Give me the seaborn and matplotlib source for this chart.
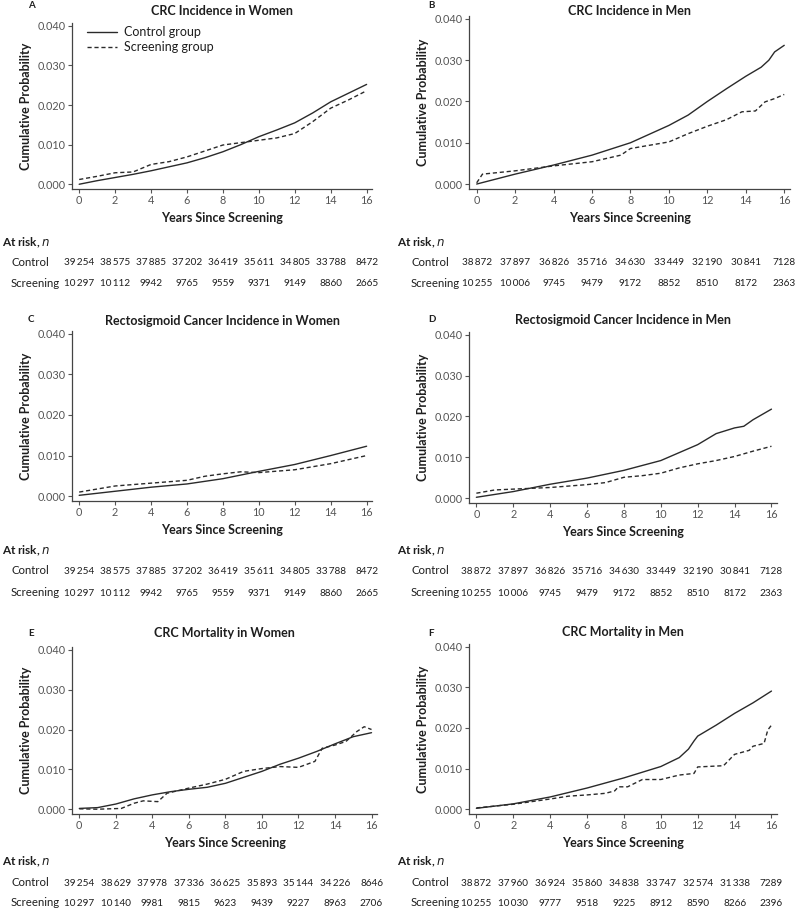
import pandas as pd
import matplotlib.pyplot as plt
import seaborn as sns

# Panel titles and labels
panel_letters = ['A', 'B', 'C', 'D', 'E', 'F']
panel_titles = ['CRC Incidence in Women', 'CRC Incidence in Men',
                'Rectosigmoid Cancer Incidence in Women', 'Rectosigmoid Cancer Incidence in Men',
                'CRC Mortality in Women', 'CRC Mortality in Men']

# Curves (years, cumulative probability)
a_ctrl_x = [0, 1, 2, 3, 4, 5, 6, 7, 8, 9, 10, 11, 12, 13, 14, 15, 16]
a_ctrl_y = [0.0, 0.0009, 0.0017, 0.0025, 0.0034, 0.0044, 0.0054, 0.0067, 0.0082, 0.0100, 0.0120,
            0.0137, 0.0155, 0.0180, 0.0208, 0.0230, 0.0252]
a_scr_x = [0, 1, 2, 3, 4, 5, 6, 7, 8, 9, 10, 11, 12, 13, 14, 15, 16]
a_scr_y = [0.0012, 0.0020, 0.0029, 0.0031, 0.0050, 0.0057, 0.0069, 0.0084, 0.0099, 0.0105, 0.0111,
           0.0117, 0.0128, 0.0158, 0.0192, 0.0213, 0.0236]

b_ctrl_x = [0, 2, 4, 6, 8, 10, 11, 12, 13, 14, 14.8, 15.2, 15.5, 16]
b_ctrl_y = [0.0, 0.0024, 0.0046, 0.0070, 0.0100, 0.0142, 0.0167, 0.0200, 0.0231, 0.0261, 0.0283,
            0.0300, 0.0320, 0.0336]
b_scr_x = [0, 0.3, 2, 4, 6, 7.5, 8, 9, 10, 11, 12, 13, 13.8, 14.5, 15, 15.5, 16]
b_scr_y = [0.0003, 0.0024, 0.0032, 0.0044, 0.0054, 0.0070, 0.0086, 0.0094, 0.0102, 0.0122, 0.0140,
           0.0156, 0.0175, 0.0177, 0.0199, 0.0207, 0.0217]

c_ctrl_x = [0, 2, 4, 6, 8, 10, 12, 14, 16]
c_ctrl_y = [0.0002, 0.0012, 0.0022, 0.0030, 0.0043, 0.0061, 0.0078, 0.0100, 0.0123]
c_scr_x = [0, 2, 4, 6, 7, 8, 9, 10, 12, 14, 16]
c_scr_y = [0.0010, 0.0025, 0.0032, 0.0039, 0.0049, 0.0055, 0.0060, 0.0058, 0.0065, 0.0080, 0.0100]

d_ctrl_x = [0, 2, 4, 6, 8, 10, 12, 13, 14, 14.5, 15, 16]
d_ctrl_y = [0.0002, 0.0016, 0.0034, 0.0049, 0.0068, 0.0092, 0.0131, 0.0158, 0.0172, 0.0176, 0.0192, 0.0218]
d_scr_x = [0, 1, 2, 4, 6, 7, 8, 9, 10, 11, 12, 13, 14, 15, 16]
d_scr_y = [0.0012, 0.0020, 0.0022, 0.0026, 0.0033, 0.0038, 0.0051, 0.0055, 0.0061, 0.0074, 0.0084,
           0.0092, 0.0102, 0.0115, 0.0127]

e_ctrl_x = [0, 1, 2, 3, 4, 5, 6, 7, 8, 9, 10, 11, 12, 13, 14, 15, 16]
e_ctrl_y = [0.0002, 0.0004, 0.0013, 0.0026, 0.0036, 0.0044, 0.0050, 0.0055, 0.0065, 0.0080, 0.0095,
            0.0113, 0.0128, 0.0145, 0.0164, 0.0182, 0.0192]
e_scr_x = [0, 1, 2.3, 3, 3.5, 4.3, 4.8, 6, 7, 8, 9, 10, 11, 12, 12.9, 13.3, 14, 14.6, 15.2, 15.6, 16]
e_scr_y = [0.0001, 0.0, 0.0002, 0.0015, 0.0021, 0.0019, 0.0040, 0.0053, 0.0063, 0.0075, 0.0095,
           0.0102, 0.0107, 0.0105, 0.0120, 0.0153, 0.0161, 0.0170, 0.0195, 0.0207, 0.0200]

f_ctrl_x = [0, 2, 4, 6, 8, 10, 11, 11.5, 11.8, 12, 13, 14, 15, 16]
f_ctrl_y = [0.0002, 0.0013, 0.0030, 0.0052, 0.0077, 0.0105, 0.0127, 0.0148, 0.0168, 0.0180, 0.0207,
            0.0236, 0.0262, 0.0291]
f_scr_x = [0, 2, 4, 5, 6, 7, 7.5, 7.7, 8.2, 9, 10, 11, 11.8, 12, 13.4, 14, 14.8, 15, 15.6, 15.8, 16]
f_scr_y = [0.0003, 0.0012, 0.0025, 0.0032, 0.0035, 0.0039, 0.0045, 0.0055, 0.0055, 0.0073, 0.0073,
           0.0084, 0.0088, 0.0104, 0.0107, 0.0135, 0.0145, 0.0155, 0.0162, 0.0195, 0.0207]

curves = [(a_ctrl_x, a_ctrl_y, a_scr_x, a_scr_y), (b_ctrl_x, b_ctrl_y, b_scr_x, b_scr_y),
          (c_ctrl_x, c_ctrl_y, c_scr_x, c_scr_y), (d_ctrl_x, d_ctrl_y, d_scr_x, d_scr_y),
          (e_ctrl_x, e_ctrl_y, e_scr_x, e_scr_y), (f_ctrl_x, f_ctrl_y, f_scr_x, f_scr_y)]

# At-risk tables
risk_years = [0, 2, 4, 6, 8, 10, 12, 14, 16]
women_inc_ctrl = [39254, 38575, 37885, 37202, 36419, 35611, 34805, 33788, 8472]
women_inc_scr = [10297, 10112, 9942, 9765, 9559, 9371, 9149, 8860, 2665]
men_inc_ctrl = [38872, 37897, 36826, 35716, 34630, 33449, 32190, 30841, 7128]
men_inc_scr = [10255, 10006, 9745, 9479, 9172, 8852, 8510, 8172, 2363]
women_mort_ctrl = [39254, 38629, 37978, 37336, 36625, 35893, 35144, 34226, 8646]
women_mort_scr = [10297, 10140, 9981, 9815, 9623, 9439, 9227, 8963, 2706]
men_mort_ctrl = [38872, 37960, 36924, 35860, 34838, 33747, 32574, 31338, 7289]
men_mort_scr = [10255, 10030, 9777, 9518, 9225, 8912, 8590, 8266, 2396]
tables = [(women_inc_ctrl, women_inc_scr), (men_inc_ctrl, men_inc_scr),
          (women_inc_ctrl, women_inc_scr), (men_inc_ctrl, men_inc_scr),
          (women_mort_ctrl, women_mort_scr), (men_mort_ctrl, men_mort_scr)]

sns.set_style("ticks")
plt.rcParams['font.family'] = ['Lato', 'DejaVu Sans']

W, H = 800, 918
fig = plt.figure(figsize=(W / 100, H / 100), dpi=100)

# axes boxes in pixels: left, right, top, bottom
boxes = [(72, 372, 23, 189), (469, 790, 16, 189),
         (72, 372, 331, 501), (469, 777, 332, 503),
         (72, 377, 647, 814), (469, 777, 644, 814)]
# pixel y of panel letter / title
head_y = [(6, 11), (6, 11), (320, 321), (320, 320), (633, 633), (633, 632)]
# y pixel of "At risk", Control row, Screening row
table_rows = [(243, 263, 284), (243, 263, 284),
              (551, 571, 593), (551, 571, 593),
              (862, 883, 903), (862, 883, 903)]

ink = '#2a2a2a'
txt = '#1e1e1e'


def fmt(n):
    return f"{n:,}".replace(',', '\u2009') if n >= 10000 else str(n)


for i in range(6):
    l, r, t, b = boxes[i]
    ax = fig.add_axes([l / W, 1 - b / H, (r - l) / W, (b - t) / H])
    cx, cy, sx, sy = curves[i]
    df = pd.concat([
        pd.DataFrame({'year': cx, 'prob': cy, 'group': 'Control group'}),
        pd.DataFrame({'year': sx, 'prob': sy, 'group': 'Screening group'}),
    ])
    sns.lineplot(data=df, x='year', y='prob', style='group', estimator=None,
                 color=ink, linewidth=1.0,
                 dashes={'Control group': '', 'Screening group': (3, 2)},
                 legend=(i == 0), ax=ax)
    ax.set_xlim(-0.4, 16.3)
    ax.set_ylim(-0.0012, 0.0407)
    ax.set_xticks(range(0, 17, 2))
    ax.set_yticks([0, 0.01, 0.02, 0.03, 0.04])
    ax.set_yticklabels(['0.000', '0.010', '0.020', '0.030', '0.040'])
    ax.tick_params(labelsize=7.8, colors='#555555', length=3, width=0.8, pad=1.5)
    for s in ['left', 'bottom']:
        ax.spines[s].set_color('#444444')
        ax.spines[s].set_linewidth(0.9)
    sns.despine(ax=ax)
    ax.set_xlabel('Years Since Screening', fontsize=9, fontweight='bold', color=txt, labelpad=4)
    ax.set_ylabel('Cumulative Probability', fontsize=9, fontweight='bold', color=txt, labelpad=4)
    if i == 0:
        leg = ax.legend(loc='upper left', frameon=False, fontsize=9, handlelength=2.4,
                        borderaxespad=0.1, labelspacing=0.25, handletextpad=0.5,
                        bbox_to_anchor=(0.03, 1.02))
        leg.set_title(None)
        for tx in leg.get_texts():
            tx.set_color(txt)

    col_x = 0 if i % 2 == 0 else 400
    ly, ty = head_y[i]
    fig.text((col_x + 28) / W, 1 - ly / H, panel_letters[i], fontsize=7,
             fontweight='bold', ha='left', va='center', color=txt)
    fig.text((l + r) / 2 / W, 1 - ty / H, panel_titles[i], fontsize=9, fontweight='bold',
             ha='center', va='center', color=txt)

    ya, yc, ys = table_rows[i]
    lab_x = 2 if i % 2 == 0 else 397
    fig.text(lab_x / W, 1 - ya / H, 'At risk, $\\it{n}$', fontsize=8.5, fontweight='bold',
             ha='left', va='center', color=txt)
    fig.text((col_x + 11) / W, 1 - yc / H, 'Control', fontsize=8.2,
             ha='left', va='center', color=txt)
    fig.text((col_x + 11) / W, 1 - ys / H, 'Screening', fontsize=8.2,
             ha='left', va='center', color=txt)
    ctrl, scr = tables[i]
    trans = ax.get_xaxis_transform()
    yc_ax = (b - yc) / (b - t)
    ys_ax = (b - ys) / (b - t)
    for yr, c, s in zip(risk_years, ctrl, scr):
        ax.text(yr, yc_ax, fmt(c), transform=trans, fontsize=7.2,
                ha='center', va='center', color=txt, clip_on=False)
        ax.text(yr, ys_ax, fmt(s), transform=trans, fontsize=7.2,
                ha='center', va='center', color=txt, clip_on=False)

fig.savefig('out.png', dpi=100)
